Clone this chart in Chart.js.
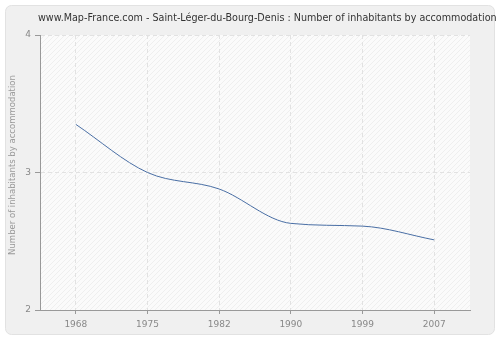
<!DOCTYPE html>
<html>
<head>
<meta charset="utf-8">
<script src="https://cdn.jsdelivr.net/npm/chart.js@4/dist/chart.umd.min.js"></script>
<style>
  html, body { margin: 0; padding: 0; background: #fff; }
  #wrap { width: 500px; height: 340px; }
</style>
</head>
<body>
<div id="wrap"><canvas id="chart" width="500" height="340"></canvas></div>
<script>
const years = ['1968', '1975', '1982', '1990', '1999', '2007'];
const inhabitants = [3.35, 3.0, 2.88, 2.63, 2.61, 2.51];
const yTicks = [2, 3, 4];
const titleText = 'www.Map-France.com - Saint-Léger-du-Bourg-Denis : Number of inhabitants by accommodation';
const yTitle = 'Number of inhabitants by accommodation';

// diagonal hatch used behind the plot
const hatch = (() => {
  const c = document.createElement('canvas');
  c.width = 5; c.height = 5;
  const g = c.getContext('2d');
  g.fillStyle = '#fbfbfb';
  g.fillRect(0, 0, 5, 5);
  g.strokeStyle = '#efefef';
  g.lineWidth = 1;
  g.beginPath();
  g.moveTo(0, 5); g.lineTo(5, 0);
  g.moveTo(-1, 1); g.lineTo(1, -1);
  g.moveTo(4, 6); g.lineTo(6, 4);
  g.stroke();
  return g.createPattern(c, 'repeat');
})();

const frame = {
  id: 'frame',
  beforeDraw(chart) {
    const { ctx, chartArea: a } = chart;
    ctx.save();
    ctx.fillStyle = '#ffffff';
    ctx.fillRect(0, 0, 500, 340);
    ctx.beginPath();
    ctx.roundRect(5.5, 5.5, 489, 329, 6);
    ctx.fillStyle = '#f0f0f0';
    ctx.fill();
    ctx.strokeStyle = '#e2e2e2';
    ctx.stroke();
    ctx.fillStyle = hatch;
    ctx.fillRect(a.left, a.top, a.right - a.left, a.bottom - a.top);

    ctx.fillStyle = '#333';
    ctx.font = '9.6px "DejaVu Sans", Verdana, sans-serif';
    ctx.textAlign = 'left';
    ctx.textBaseline = 'middle';
    ctx.fillText(titleText, 38, 18);

    ctx.translate(13, 165);
    ctx.rotate(-Math.PI / 2);
    ctx.fillStyle = '#999';
    ctx.font = '8.5px "DejaVu Sans", Verdana, sans-serif';
    ctx.textAlign = 'center';
    ctx.fillText(yTitle, 0, 0);
    ctx.restore();
  }
};

new Chart(document.getElementById('chart'), {
  type: 'line',
  data: {
    labels: years,
    datasets: [{
      data: inhabitants,
      borderColor: '#4a6fa5',
      borderWidth: 1,
      pointRadius: 0,
      fill: false,
      cubicInterpolationMode: 'monotone'
    }]
  },
  options: {
    responsive: false,
    animation: false,
    layout: { padding: { top: 35, right: 30, left: 0, bottom: 0 } },
    plugins: { legend: { display: false }, tooltip: { enabled: false } },
    scales: {
      x: {
        offset: true,
        grid: {
          color: '#e2e2e2',
          tickColor: '#999',
          tickLength: 4,
          offset: false
        },
        border: { color: '#999', dash: [4, 3] },
        ticks: { color: '#888', font: { family: 'DejaVu Sans', size: 9 }, padding: 5 },
        afterFit(s) { s.height = 30; }
      },
      y: {
        min: 2, max: 4,
        afterBuildTicks(s) { s.ticks = yTicks.map(v => ({ value: v })); },
        grid: { color: '#e2e2e2', tickColor: '#999', tickLength: 5 },
        border: { color: '#999', dash: [4, 3] },
        ticks: { color: '#888', font: { family: 'DejaVu Sans', size: 9 }, padding: 4 },
        afterFit(s) { s.width = 40; }
      }
    }
  },
  plugins: [frame]
});
</script>
</body>
</html>
